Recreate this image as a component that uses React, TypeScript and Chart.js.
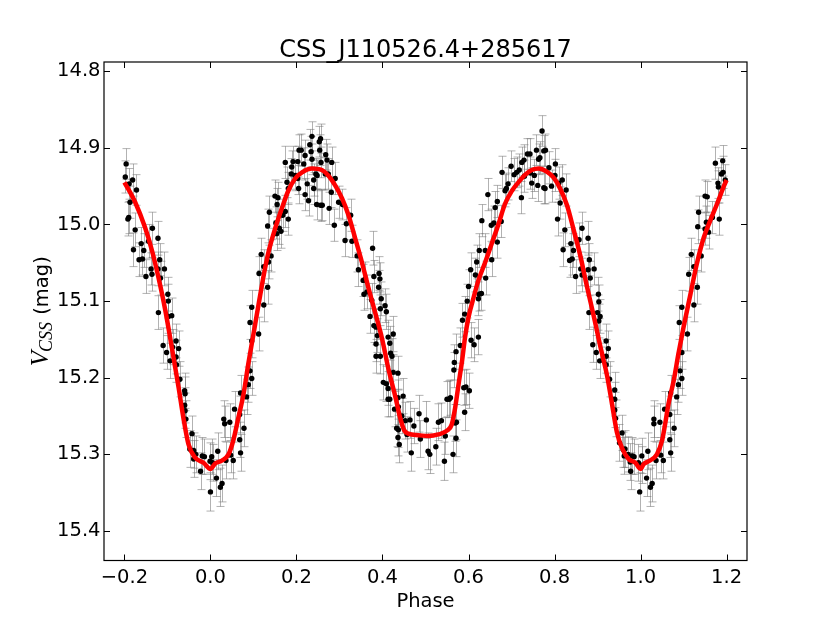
import React, { useEffect, useRef } from 'react';
import { Chart, registerables } from 'chart.js';

Chart.register(...registerables);

const TITLE = 'CSS_J110526.4+285617';
const X_LABEL = 'Phase';
const Y_LABEL_MAIN = 'V';
const Y_LABEL_SUB = 'CSS';
const Y_LABEL_UNIT = ' (mag)';

const X_MIN = -0.2475;
const X_MAX = 1.2475;
const Y_MIN = 14.788;
const Y_MAX = 15.4385;

const xTickValues = [-0.2, 0.0, 0.2, 0.4, 0.6, 0.8, 1.0, 1.2];
const xTickLabels = ['\u22120.2', '0.0', '0.2', '0.4', '0.6', '0.8', '1.0', '1.2'];
const yTickValues = [14.8, 14.9, 15.0, 15.1, 15.2, 15.3, 15.4];
const yTickLabels = ['14.8', '14.9', '15.0', '15.1', '15.2', '15.3', '15.4'];

// [phase, magnitude, error]
const observations: [number, number, number][] = [
  [-0.196, 14.921, 0.020], [-0.198, 14.938, 0.021], [-0.189, 14.947, 0.020], [-0.181, 14.942, 0.021],
  [-0.172, 14.955, 0.020], [-0.187, 14.971, 0.021], [-0.192, 14.993, 0.022], [-0.190, 14.991, 0.021],
  [-0.175, 15.007, 0.022], [-0.179, 15.033, 0.022], [-0.161, 15.025, 0.021], [-0.155, 15.034, 0.022],
  [-0.166, 15.046, 0.022], [-0.158, 15.045, 0.021], [-0.144, 15.022, 0.022], [-0.135, 15.005, 0.021],
  [-0.122, 15.018, 0.022], [-0.150, 15.068, 0.022], [-0.138, 15.058, 0.021], [-0.136, 15.065, 0.022],
  [-0.122, 15.058, 0.022], [-0.118, 15.046, 0.021], [-0.107, 15.058, 0.022], [-0.116, 15.070, 0.022],
  [-0.099, 15.091, 0.022], [-0.098, 15.100, 0.022], [-0.090, 15.119, 0.023], [-0.098, 15.120, 0.022],
  [-0.121, 15.115, 0.022], [-0.110, 15.158, 0.023], [-0.102, 15.167, 0.022], [-0.088, 15.160, 0.023],
  [-0.080, 15.152, 0.022], [-0.074, 15.162, 0.023], [-0.080, 15.173, 0.022], [-0.094, 15.178, 0.023],
  [-0.079, 15.183, 0.023], [-0.071, 15.202, 0.023], [-0.060, 15.217, 0.023], [-0.059, 15.221, 0.022],
  [-0.060, 15.236, 0.023], [-0.059, 15.243, 0.023], [-0.057, 15.254, 0.024], [-0.043, 15.273, 0.023],
  [-0.048, 15.293, 0.024], [-0.039, 15.295, 0.023], [-0.034, 15.300, 0.024], [-0.039, 15.306, 0.024],
  [-0.019, 15.302, 0.024], [-0.014, 15.303, 0.023], [-0.023, 15.322, 0.024], [-0.001, 15.309, 0.024],
  [0.003, 15.303, 0.023], [0.005, 15.311, 0.024], [0.017, 15.296, 0.024], [0.000, 15.349, 0.025],
  [0.014, 15.331, 0.024], [0.023, 15.343, 0.025], [0.027, 15.338, 0.024], [0.031, 15.254, 0.024],
  [0.033, 15.260, 0.023], [0.045, 15.258, 0.024], [0.036, 15.308, 0.024], [0.047, 15.301, 0.023],
  [0.053, 15.308, 0.024], [0.056, 15.241, 0.023], [0.068, 15.248, 0.024], [0.070, 15.220, 0.023],
  [0.078, 15.266, 0.024], [0.068, 15.281, 0.023], [0.070, 15.298, 0.024], [0.084, 15.225, 0.023],
  [0.088, 15.209, 0.023], [0.096, 15.201, 0.022], [0.092, 15.191, 0.023], [0.096, 15.152, 0.022],
  [0.092, 15.128, 0.022], [0.096, 15.108, 0.022], [0.112, 15.143, 0.022], [0.113, 15.064, 0.022],
  [0.118, 15.039, 0.021], [0.124, 15.055, 0.022], [0.124, 15.105, 0.022], [0.133, 15.082, 0.022],
  [0.135, 15.049, 0.022], [0.141, 15.041, 0.021], [0.137, 14.984, 0.021], [0.133, 15.002, 0.022],
  [0.150, 14.963, 0.021], [0.157, 14.965, 0.020], [0.155, 14.974, 0.021], [0.152, 14.998, 0.021],
  [0.160, 15.005, 0.021], [0.164, 15.009, 0.022], [0.168, 14.988, 0.021], [0.174, 14.983, 0.021],
  [0.181, 14.993, 0.021], [0.154, 15.012, 0.022], [0.174, 14.919, 0.021], [0.178, 14.945, 0.020],
  [0.181, 14.953, 0.021], [0.188, 14.934, 0.020], [0.189, 14.925, 0.021], [0.192, 14.918, 0.020],
  [0.197, 14.936, 0.020], [0.203, 14.940, 0.021], [0.205, 14.953, 0.020], [0.206, 14.903, 0.020],
  [0.211, 14.903, 0.021], [0.203, 14.918, 0.020], [0.220, 14.910, 0.020], [0.217, 14.921, 0.021],
  [0.225, 14.947, 0.020], [0.220, 14.961, 0.021], [0.228, 14.969, 0.020], [0.231, 14.896, 0.020],
  [0.236, 14.885, 0.019], [0.234, 14.905, 0.020], [0.236, 14.915, 0.020], [0.240, 14.942, 0.021],
  [0.245, 14.934, 0.020], [0.248, 14.936, 0.020], [0.240, 14.953, 0.021], [0.247, 14.974, 0.020],
  [0.256, 14.975, 0.021], [0.253, 14.892, 0.020], [0.256, 14.888, 0.019], [0.254, 14.903, 0.020],
  [0.257, 14.919, 0.020], [0.268, 14.909, 0.020], [0.271, 14.916, 0.021], [0.260, 14.975, 0.020],
  [0.267, 14.934, 0.021], [0.274, 14.934, 0.020], [0.282, 14.919, 0.020], [0.290, 14.940, 0.021],
  [0.281, 14.958, 0.020], [0.276, 14.979, 0.021], [0.288, 15.001, 0.021], [0.298, 14.971, 0.021],
  [0.307, 14.974, 0.020], [0.313, 15.021, 0.021], [0.316, 14.999, 0.021], [0.329, 15.022, 0.021],
  [0.326, 14.988, 0.021], [0.341, 15.041, 0.021], [0.344, 15.059, 0.022], [0.355, 15.073, 0.021],
  [0.360, 15.071, 0.022], [0.364, 15.088, 0.022], [0.357, 15.091, 0.021], [0.377, 15.031, 0.022],
  [0.380, 15.068, 0.021], [0.392, 15.064, 0.022], [0.394, 15.071, 0.021], [0.391, 15.082, 0.022],
  [0.371, 15.120, 0.022], [0.375, 15.099, 0.022], [0.380, 15.132, 0.022], [0.385, 15.134, 0.023],
  [0.397, 15.097, 0.022], [0.395, 15.110, 0.022], [0.406, 15.106, 0.022], [0.409, 15.114, 0.023],
  [0.413, 15.147, 0.022], [0.425, 15.143, 0.023], [0.417, 15.155, 0.022], [0.388, 15.145, 0.022],
  [0.385, 15.156, 0.023], [0.385, 15.172, 0.022], [0.395, 15.172, 0.023], [0.419, 15.168, 0.022],
  [0.422, 15.172, 0.023], [0.402, 15.206, 0.023], [0.409, 15.208, 0.023], [0.413, 15.214, 0.022],
  [0.413, 15.228, 0.023], [0.417, 15.228, 0.023], [0.425, 15.193, 0.023], [0.436, 15.194, 0.022],
  [0.428, 15.241, 0.023], [0.436, 15.226, 0.023], [0.437, 15.238, 0.023], [0.448, 15.224, 0.023],
  [0.433, 15.266, 0.024], [0.437, 15.268, 0.023], [0.436, 15.278, 0.024], [0.439, 15.287, 0.024],
  [0.445, 15.250, 0.023], [0.453, 15.256, 0.024], [0.457, 15.274, 0.023], [0.464, 15.255, 0.024],
  [0.467, 15.298, 0.024], [0.473, 15.263, 0.023], [0.485, 15.247, 0.024], [0.488, 15.280, 0.024],
  [0.502, 15.255, 0.024], [0.506, 15.296, 0.024], [0.510, 15.300, 0.025], [0.524, 15.290, 0.024],
  [0.530, 15.258, 0.024], [0.537, 15.256, 0.023], [0.544, 15.309, 0.025], [0.546, 15.276, 0.024],
  [0.550, 15.228, 0.023], [0.555, 15.228, 0.024], [0.558, 15.226, 0.023], [0.564, 15.300, 0.024],
  [0.569, 15.259, 0.024], [0.572, 15.258, 0.023], [0.571, 15.279, 0.024], [0.566, 15.190, 0.023],
  [0.567, 15.180, 0.023], [0.571, 15.166, 0.023], [0.581, 15.158, 0.023], [0.586, 15.125, 0.022],
  [0.591, 15.117, 0.023], [0.589, 15.213, 0.023], [0.594, 15.212, 0.023], [0.602, 15.217, 0.023],
  [0.591, 15.245, 0.024], [0.597, 15.100, 0.022], [0.600, 15.081, 0.022], [0.605, 15.059, 0.022],
  [0.606, 15.151, 0.023], [0.613, 15.157, 0.022], [0.616, 15.066, 0.022], [0.619, 15.049, 0.022],
  [0.623, 15.147, 0.023], [0.623, 15.097, 0.022], [0.625, 15.091, 0.022], [0.630, 15.090, 0.022],
  [0.625, 15.034, 0.022], [0.631, 14.995, 0.021], [0.639, 15.034, 0.022], [0.640, 15.070, 0.022],
  [0.645, 14.961, 0.021], [0.654, 15.046, 0.022], [0.653, 15.001, 0.021], [0.659, 14.998, 0.022],
  [0.662, 14.978, 0.021], [0.667, 14.970, 0.021], [0.667, 15.023, 0.021], [0.676, 14.996, 0.021],
  [0.678, 14.932, 0.021], [0.685, 14.956, 0.021], [0.688, 14.953, 0.020], [0.692, 14.947, 0.021],
  [0.699, 14.924, 0.020], [0.706, 14.935, 0.021], [0.712, 14.932, 0.020], [0.718, 14.929, 0.021],
  [0.723, 14.965, 0.021], [0.724, 14.919, 0.020], [0.729, 14.916, 0.020], [0.730, 14.937, 0.021],
  [0.737, 14.908, 0.020], [0.743, 14.908, 0.020], [0.744, 14.933, 0.021], [0.747, 14.946, 0.020],
  [0.753, 14.936, 0.021], [0.758, 14.903, 0.020], [0.761, 14.949, 0.021], [0.763, 14.915, 0.020],
  [0.766, 14.913, 0.021], [0.771, 14.878, 0.020], [0.775, 14.952, 0.021], [0.775, 14.904, 0.020],
  [0.779, 14.903, 0.021], [0.778, 14.953, 0.020], [0.787, 14.926, 0.021], [0.793, 14.950, 0.021],
  [0.802, 14.921, 0.020], [0.801, 14.936, 0.021], [0.810, 14.946, 0.021], [0.818, 14.942, 0.020],
  [0.827, 14.955, 0.021], [0.813, 14.972, 0.021], [0.807, 14.993, 0.022], [0.824, 15.007, 0.022],
  [0.820, 15.033, 0.022], [0.838, 15.025, 0.021], [0.844, 15.034, 0.022], [0.835, 15.047, 0.022],
  [0.841, 15.045, 0.021], [0.849, 15.068, 0.022], [0.864, 15.005, 0.021], [0.857, 15.020, 0.022],
  [0.878, 15.018, 0.022], [0.881, 15.046, 0.021], [0.861, 15.058, 0.022], [0.864, 15.066, 0.022],
  [0.878, 15.059, 0.022], [0.892, 15.058, 0.021], [0.883, 15.070, 0.022], [0.902, 15.091, 0.022],
  [0.903, 15.101, 0.022], [0.900, 15.115, 0.023], [0.906, 15.120, 0.022], [0.903, 15.126, 0.022],
  [0.880, 15.115, 0.022], [0.889, 15.157, 0.023], [0.897, 15.167, 0.022], [0.905, 15.178, 0.023],
  [0.920, 15.152, 0.022], [0.925, 15.162, 0.023], [0.920, 15.172, 0.022], [0.920, 15.183, 0.023],
  [0.928, 15.202, 0.023], [0.940, 15.216, 0.023], [0.940, 15.228, 0.022], [0.940, 15.242, 0.023],
  [0.942, 15.253, 0.024], [0.957, 15.272, 0.023], [0.951, 15.285, 0.024], [0.960, 15.294, 0.023],
  [0.962, 15.302, 0.024], [0.981, 15.302, 0.024], [0.985, 15.303, 0.023], [0.976, 15.310, 0.024],
  [0.998, 15.349, 0.025], [0.964, 15.293, 0.024], [0.971, 15.300, 0.023], [0.977, 15.322, 0.024],
  [0.995, 15.311, 0.024], [1.003, 15.302, 0.023], [1.003, 15.314, 0.024], [1.014, 15.331, 0.024],
  [1.017, 15.296, 0.024], [1.023, 15.343, 0.025], [1.027, 15.338, 0.024], [1.031, 15.254, 0.024],
  [1.031, 15.260, 0.023], [1.045, 15.258, 0.024], [1.036, 15.308, 0.024], [1.047, 15.301, 0.023],
  [1.053, 15.308, 0.024], [1.056, 15.241, 0.023], [1.068, 15.248, 0.024], [1.070, 15.220, 0.023],
  [1.078, 15.266, 0.024], [1.068, 15.281, 0.023], [1.070, 15.298, 0.024], [1.084, 15.225, 0.023],
  [1.088, 15.209, 0.023], [1.096, 15.201, 0.022], [1.092, 15.191, 0.023], [1.096, 15.167, 0.022],
  [1.090, 15.128, 0.022], [1.096, 15.108, 0.022], [1.109, 15.143, 0.022], [1.112, 15.065, 0.022],
  [1.118, 15.039, 0.021], [1.124, 15.055, 0.022], [1.124, 15.105, 0.022], [1.132, 15.082, 0.022],
  [1.133, 15.003, 0.022], [1.135, 14.984, 0.021], [1.141, 15.041, 0.021], [1.150, 14.963, 0.021],
  [1.155, 14.964, 0.020], [1.153, 14.997, 0.021], [1.150, 15.006, 0.021], [1.158, 15.010, 0.022],
  [1.167, 14.991, 0.021], [1.174, 14.920, 0.021], [1.180, 14.946, 0.020], [1.181, 14.951, 0.021],
  [1.188, 14.934, 0.020], [1.191, 14.917, 0.020], [1.192, 14.932, 0.021], [1.197, 14.942, 0.020],
  [1.183, 14.993, 0.021],
];

const modelPhase = [
  -0.200, -0.175, -0.152, -0.136, -0.121, -0.105, -0.090, -0.074, -0.063, -0.051, -0.036, -0.016,
  0.000, 0.011, 0.027, 0.042, 0.053, 0.065, 0.077, 0.088, 0.100, 0.112, 0.126, 0.135, 0.150, 0.166,
  0.181, 0.197, 0.213, 0.236, 0.259, 0.274, 0.290, 0.306, 0.321, 0.337, 0.352, 0.367, 0.383, 0.399,
  0.414, 0.430, 0.441, 0.451, 0.460, 0.484, 0.507, 0.530, 0.550, 0.561, 0.569, 0.577, 0.585, 0.592,
  0.600, 0.612, 0.623, 0.639, 0.654, 0.670, 0.685, 0.701, 0.716, 0.732, 0.747, 0.763, 0.782, 0.798,
  0.813, 0.829, 0.844, 0.860, 0.875, 0.891, 0.906, 0.922, 0.933, 0.945, 0.957, 0.972, 0.988, 1.000,
  1.007, 1.022, 1.038, 1.050, 1.057, 1.065, 1.077, 1.088, 1.100, 1.116, 1.131, 1.147, 1.162, 1.178,
  1.193, 1.200,
];
const modelMag = [
  14.945, 14.971, 15.004, 15.034, 15.069, 15.112, 15.160, 15.213, 15.252, 15.287, 15.304, 15.311,
  15.319, 15.312, 15.308, 15.300, 15.282, 15.252, 15.221, 15.182, 15.143, 15.104, 15.060, 15.036, 15.006, 14.979,
  14.956, 14.940, 14.932, 14.927, 14.929, 14.936, 14.949, 14.966, 14.988, 15.019, 15.049, 15.082, 15.115, 15.149,
  15.189, 15.225, 15.252, 15.269, 15.273, 15.275, 15.276, 15.274, 15.269, 15.261, 15.239, 15.208, 15.178, 15.147,
  15.121, 15.095, 15.073, 15.049, 15.025, 14.999, 14.973, 14.956, 14.945, 14.935, 14.929, 14.927, 14.931, 14.939,
  14.953, 14.975, 15.006, 15.041, 15.080, 15.119, 15.158, 15.197, 15.232, 15.271, 15.292, 15.306, 15.311, 15.319,
  15.313, 15.308, 15.300, 15.282, 15.261, 15.234, 15.204, 15.169, 15.134, 15.091, 15.051, 15.017, 14.995, 14.973,
  14.951, 14.942,
];

const SANS = '"DejaVu Sans", "Bitstream Vera Sans", sans-serif';
const SERIF = '"Liberation Serif", "DejaVu Serif", serif';

const decorPlugin = {
  id: 'decor',
  beforeDatasetsDraw(chart: any) {
    const ctx = chart.ctx as CanvasRenderingContext2D;
    const xs = chart.scales.x;
    const ys = chart.scales.y;
    ctx.save();
    ctx.strokeStyle = 'rgba(115,115,115,0.55)';
    ctx.lineWidth = 1;
    for (const [p, m, e] of observations) {
      const px = Math.round(xs.getPixelForValue(p)) + 0.5;
      const y1 = ys.getPixelForValue(m - e);
      const y2 = ys.getPixelForValue(m + e);
      ctx.beginPath();
      ctx.moveTo(px, y1);
      ctx.lineTo(px, y2);
      ctx.moveTo(px - 4, y1);
      ctx.lineTo(px + 4, y1);
      ctx.moveTo(px - 4, y2);
      ctx.lineTo(px + 4, y2);
      ctx.stroke();
    }
    ctx.restore();
  },
  afterDatasetsDraw(chart: any) {
    const ctx = chart.ctx as CanvasRenderingContext2D;
    const { left, right, top, bottom } = chart.chartArea;
    const xs = chart.scales.x;
    const ys = chart.scales.y;
    ctx.save();
    ctx.strokeStyle = '#000';
    ctx.lineWidth = 1.2;
    ctx.strokeRect(left, top, right - left, bottom - top);
    ctx.lineWidth = 1;
    const tl = 6;
    ctx.beginPath();
    for (const v of xTickValues) {
      const px = Math.round(xs.getPixelForValue(v)) + 0.5;
      ctx.moveTo(px, bottom);
      ctx.lineTo(px, bottom - tl);
      ctx.moveTo(px, top);
      ctx.lineTo(px, top + tl);
    }
    for (const v of yTickValues) {
      const py = Math.round(ys.getPixelForValue(v)) + 0.5;
      ctx.moveTo(left, py);
      ctx.lineTo(left + tl, py);
      ctx.moveTo(right, py);
      ctx.lineTo(right - tl, py);
    }
    ctx.stroke();
    ctx.restore();
  },
  afterDraw(chart: any) {
    const ctx = chart.ctx as CanvasRenderingContext2D;
    const { left, right, top, bottom } = chart.chartArea;
    const cx = (left + right) / 2;
    ctx.save();
    ctx.fillStyle = '#000';
    ctx.textAlign = 'center';
    ctx.textBaseline = 'alphabetic';
    ctx.font = `24px ${SANS}`;
    ctx.fillText(TITLE, cx, 57);
    ctx.font = `19.5px ${SANS}`;
    ctx.fillText(X_LABEL, cx, 607);

    // y label: italic V with italic subscript CSS, then " (mag)"
    const cy = (top + bottom) / 2;
    const mainFont = `italic 25px ${SERIF}`;
    const subFont = `italic 18px ${SERIF}`;
    const unitFont = `19.5px ${SANS}`;
    ctx.font = mainFont;
    const wV = ctx.measureText(Y_LABEL_MAIN).width;
    ctx.font = subFont;
    const wS = ctx.measureText(Y_LABEL_SUB).width;
    ctx.font = unitFont;
    const wU = ctx.measureText(Y_LABEL_UNIT).width;
    const total = wV + wS + wU;
    ctx.translate(48, cy);
    ctx.rotate(-Math.PI / 2);
    ctx.textAlign = 'left';
    let x0 = -total / 2;
    ctx.font = mainFont;
    ctx.fillText(Y_LABEL_MAIN, x0, 0);
    x0 += wV - 1;
    ctx.font = subFont;
    ctx.fillText(Y_LABEL_SUB, x0, 4);
    x0 += wS + 1;
    ctx.font = unitFont;
    ctx.fillText(Y_LABEL_UNIT, x0, 0);
    ctx.restore();
  },
};

export default function App() {
  const canvasRef = useRef<HTMLCanvasElement | null>(null);

  useEffect(() => {
    const canvas = canvasRef.current;
    if (!canvas) return;
    Chart.defaults.font.family = SANS;
    const chart = new Chart(canvas, {
      type: 'scatter',
      data: {
        datasets: [
          {
            type: 'line',
            label: 'model',
            data: modelPhase.map((x, i) => ({ x, y: modelMag[i] })),
            borderColor: '#ff0000',
            borderWidth: 4.5,
            pointRadius: 0,
            fill: false,
            cubicInterpolationMode: 'monotone',
            borderJoinStyle: 'round',
            order: 0,
          } as any,
          {
            type: 'scatter',
            label: 'data',
            data: observations.map(([x, y]) => ({ x, y })),
            backgroundColor: '#000',
            borderWidth: 0,
            pointRadius: 2.7,
            order: 1,
          } as any,
        ],
      },
      options: {
        responsive: false,
        animation: false,
        events: [],
        layout: { padding: { top: 62, right: 83, bottom: 0, left: 0 } },
        plugins: {
          legend: { display: false },
          tooltip: { enabled: false },
          title: { display: false },
        },
        scales: {
          x: {
            type: 'linear',
            min: X_MIN,
            max: X_MAX,
            grid: { display: false, drawTicks: false },
            border: { display: false },
            afterBuildTicks: (scale: any) => {
              scale.ticks = xTickValues.map((v) => ({ value: v }));
            },
            afterFit: (scale: any) => {
              scale.height = 62.5;
            },
            ticks: {
              color: '#000',
              font: { size: 19.5, family: SANS },
              padding: 6,
              maxRotation: 0,
              autoSkip: false,
              callback: (v: any) => {
                const i = xTickValues.findIndex((t) => Math.abs(t - Number(v)) < 1e-6);
                return i >= 0 ? xTickLabels[i] : '';
              },
            },
          },
          y: {
            type: 'linear',
            reverse: true,
            min: Y_MIN,
            max: Y_MAX,
            grid: { display: false, drawTicks: false },
            border: { display: false },
            afterBuildTicks: (scale: any) => {
              scale.ticks = yTickValues.map((v) => ({ value: v }));
            },
            afterFit: (scale: any) => {
              scale.width = 104;
            },
            ticks: {
              color: '#000',
              font: { size: 19.5, family: SANS },
              padding: 3.5,
              autoSkip: false,
              callback: (v: any) => {
                const i = yTickValues.findIndex((t) => Math.abs(t - Number(v)) < 1e-6);
                return i >= 0 ? yTickLabels[i] : '';
              },
            },
          },
        },
      },
      plugins: [decorPlugin],
    });
    return () => chart.destroy();
  }, []);

  return (
    <div style={{ position: 'absolute', left: 0, top: 0, width: 830, height: 623, background: '#fff' }}>
      <canvas ref={canvasRef} width={830} height={623} style={{ width: 830, height: 623, display: 'block' }} />
    </div>
  );
}
